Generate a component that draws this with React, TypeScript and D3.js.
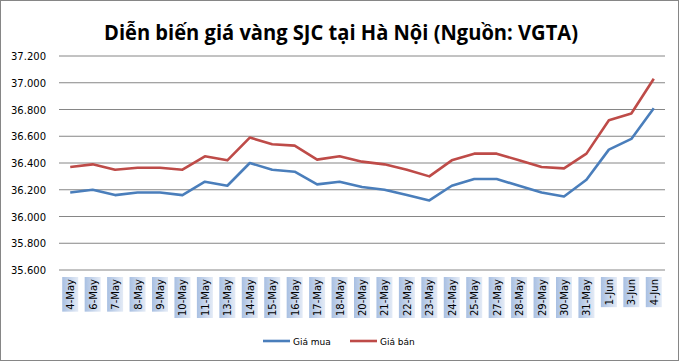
import React, { useEffect, useRef } from 'react';
import * as d3 from 'd3';

const categories = [
    '4-May', '6-May', '7-May', '8-May', '9-May', '10-May', '11-May', '13-May', '14-May',
    '15-May', '16-May', '17-May', '18-May', '20-May', '21-May', '22-May', '23-May', '24-May',
    '25-May', '27-May', '28-May', '29-May', '30-May', '31-May', '1-Jun', '3-Jun', '4-Jun',
];

const giaMua = [
    36180, 36200, 36160, 36180, 36180, 36160, 36260, 36230, 36400,
    36350, 36335, 36240, 36260, 36220, 36200, 36160, 36120, 36230,
    36280, 36280, 36230, 36180, 36150, 36275, 36500, 36580, 36810,
];

const giaBan = [
    36370, 36390, 36350, 36365, 36365, 36350, 36450, 36420, 36590,
    36540, 36530, 36425, 36450, 36410, 36390, 36350, 36300, 36420,
    36470, 36470, 36420, 36370, 36360, 36470, 36720, 36770, 37030,
];

const yTicks = [35600, 35800, 36000, 36200, 36400, 36600, 36800, 37000, 37200];

const seriesNames = ['Giá mua', 'Giá bán'];
const seriesColors = ['#4a7ebb', '#be4b48'];

const fmt = (v: number) => d3.format(',')(v).replace(/,/g, '.');

export default function App() {
    const svgRef = useRef<SVGSVGElement>(null);

    useEffect(() => {
        if (!svgRef.current) return;
        document.body.style.margin = '0';

        const width = 680;
        const height = 361;
        const plot = { left: 59, right: 665, top: 56, bottom: 270 };

        const svg = d3.select(svgRef.current);
        svg.selectAll('*').remove();

        // outer frame
        svg.append('rect')
            .attr('x', 0.5).attr('y', 0.5)
            .attr('width', width - 2).attr('height', height - 1)
            .attr('fill', '#fff')
            .attr('stroke', '#868686');

        // title
        svg.append('text')
            .attr('x', 341)
            .attr('y', 40)
            .attr('text-anchor', 'middle')
            .attr('font-family', '"Open Sans", sans-serif')
            .attr('font-weight', 'bold')
            .attr('font-size', 21)
            .attr('textLength', 474)
            .attr('lengthAdjust', 'spacingAndGlyphs')
            .attr('fill', '#000')
            .text('Diễn biến giá vàng SJC tại Hà Nội (Nguồn: VGTA)');

        const x = d3.scaleBand().domain(categories).range([plot.left, plot.right]);
        const y = d3.scaleLinear().domain([35600, 37200]).range([plot.bottom, plot.top]);

        // gridlines
        svg.append('g')
            .selectAll('line')
            .data(yTicks)
            .enter()
            .append('line')
            .attr('x1', plot.left)
            .attr('x2', plot.right)
            .attr('y1', d => y(d))
            .attr('y2', d => y(d))
            .attr('stroke', '#868686')
            .attr('stroke-width', 1);

        // y tick labels
        svg.append('g')
            .selectAll('text')
            .data(yTicks)
            .enter()
            .append('text')
            .attr('x', 46)
            .attr('y', d => y(d) + 4)
            .attr('text-anchor', 'end')
            .attr('font-family', '"DejaVu Sans", sans-serif')
            .attr('font-size', 10)
            .attr('fill', '#000')
            .text(d => fmt(d));

        // category labels with gradient boxes
        const defs = svg.append('defs');
        const grad = defs.append('linearGradient')
            .attr('id', 'catGrad')
            .attr('x1', '0%').attr('x2', '100%')
            .attr('y1', '0%').attr('y2', '0%');
        grad.append('stop').attr('offset', '0%').attr('stop-color', '#a9c0e2');
        grad.append('stop').attr('offset', '100%').attr('stop-color', '#e4ebf6');

        const labelTop = 277;
        const cat = svg.append('g')
            .selectAll('g')
            .data(categories)
            .enter()
            .append('g')
            .attr('transform', d => `translate(${(x(d) ?? 0) + x.bandwidth() / 2},${labelTop})`);

        cat.append('text')
            .attr('transform', 'rotate(-90)')
            .attr('x', -2)
            .attr('y', 4)
            .attr('text-anchor', 'end')
            .attr('font-family', '"DejaVu Sans", sans-serif')
            .attr('font-size', 10)
            .attr('fill', '#000')
            .text(d => d)
            .each(function () {
                const len = (this as SVGTextElement).getComputedTextLength();
                d3.select((this as SVGTextElement).parentNode as SVGGElement)
                    .insert('rect', 'text')
                    .attr('x', -8)
                    .attr('y', 0)
                    .attr('width', 16)
                    .attr('height', len + 4)
                    .attr('fill', 'url(#catGrad)');
            });

        // lines
        const line = d3.line<number>()
            .x((_, i) => (x(categories[i]) ?? 0) + x.bandwidth() / 2)
            .y(d => y(d));

        [giaMua, giaBan].forEach((s, i) => {
            svg.append('path')
                .datum(s)
                .attr('d', line)
                .attr('fill', 'none')
                .attr('stroke', seriesColors[i])
                .attr('stroke-width', 2.6)
                .attr('stroke-linejoin', 'round');
        });

        // legend
        const legendX = [263, 350];
        seriesNames.forEach((name, i) => {
            const lg = svg.append('g').attr('transform', `translate(${legendX[i]},341)`);
            lg.append('line')
                .attr('x1', 0).attr('x2', 27)
                .attr('y1', 0).attr('y2', 0)
                .attr('stroke', seriesColors[i])
                .attr('stroke-width', 2.6);
            lg.append('text')
                .attr('x', 30)
                .attr('y', 4)
                .attr('font-family', '"DejaVu Sans", sans-serif')
                .attr('font-size', 9)
                .attr('fill', '#000')
                .text(name);
        });
    }, []);

    return (
        <svg ref={svgRef} width={680} height={361} viewBox="0 0 680 361"
            style={{ display: 'block', position: 'absolute', left: 0, top: 0 }} />
    );
}
